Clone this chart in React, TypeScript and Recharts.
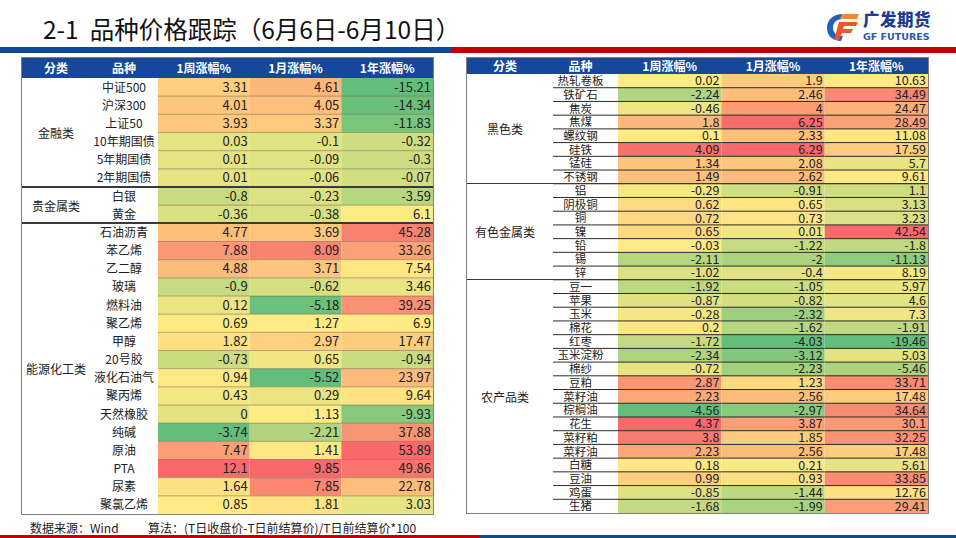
import React from "react";
import { BarChart, Bar, XAxis, YAxis, LabelList } from "recharts";

const headers = ["分类", "品种", "1周涨幅%", "1月涨幅%", "1年涨幅%"];

const leftGroups = ["金融类", "贵金属类", "能源化工类"];
const leftGroupSizes = [6, 2, 16];
const leftNames = [
  "中证500", "沪深300", "上证50", "10年期国债", "5年期国债", "2年期国债",
  "白银", "黄金",
  "石油沥青", "苯乙烯", "乙二醇", "玻璃", "燃料油", "聚乙烯", "甲醇", "20号胶",
  "液化石油气", "聚丙烯", "天然橡胶", "纯碱", "原油", "PTA", "尿素", "聚氯乙烯",
];
const leftWeek = [3.31, 4.01, 3.93, 0.03, 0.01, 0.01, -0.8, -0.36, 4.77, 7.88, 4.88, -0.9, 0.12, 0.69, 1.82, -0.73, 0.94, 0.43, 0, -3.74, 7.47, 12.1, 1.64, 0.85];
const leftMonth = [4.61, 4.05, 3.37, -0.1, -0.09, -0.06, -0.23, -0.38, 3.69, 8.09, 3.71, -0.62, -5.18, 1.27, 2.97, 0.65, -5.52, 0.29, 1.13, -2.21, 1.41, 9.85, 7.85, 1.81];
const leftYear = [-15.21, -14.34, -11.83, -0.32, -0.3, -0.07, -3.59, 6.1, 45.28, 33.26, 7.54, 3.46, 39.25, 6.9, 17.47, -0.94, 23.97, 9.64, -9.93, 37.88, 53.89, 49.86, 22.78, 3.03];

const rightGroups = ["黑色类", "有色金属类", "农产品类"];
const rightGroupSizes = [8, 7, 17];
const rightNames = [
  "热轧卷板", "铁矿石", "焦炭", "焦煤", "螺纹钢", "硅铁", "锰硅", "不锈钢",
  "铝", "阴极铜", "铜", "镍", "铅", "锡", "锌",
  "豆一", "苹果", "玉米", "棉花", "红枣", "玉米淀粉", "棉纱", "豆粕", "菜籽油",
  "棕榈油", "花生", "菜籽粕", "菜籽油", "白糖", "豆油", "鸡蛋", "生猪",
];
const rightWeek = [0.02, -2.24, -0.46, 1.8, 0.1, 4.09, 1.34, 1.49, -0.29, 0.62, 0.72, 0.65, -0.03, -2.11, -1.02, -1.92, -0.87, -0.28, 0.2, -1.72, -2.34, -0.72, 2.87, 2.23, -4.56, 4.37, 3.8, 2.23, 0.18, 0.99, -0.85, -1.68];
const rightMonth = [1.9, 2.46, 4, 6.25, 2.33, 6.29, 2.08, 2.62, -0.91, 0.65, 0.73, 0.01, -1.22, -2, -0.4, -1.05, -0.82, -2.32, -1.62, -4.03, -3.12, -2.23, 1.23, 2.56, -2.97, 3.87, 1.85, 2.56, 0.21, 0.93, -1.44, -1.99];
const rightYear = [10.63, 34.49, 24.47, 28.49, 11.08, 17.59, 5.7, 9.61, 1.1, 3.13, 3.23, 42.54, -1.8, -11.13, 8.19, 5.97, 4.6, 7.3, -1.91, -19.46, 5.03, -5.46, 33.71, 17.48, 34.64, 30.1, 32.25, 17.48, 5.61, 33.85, 12.76, 29.41];

const CN = '"Noto Sans CJK SC", "Microsoft YaHei", sans-serif';
const NUM = '"Liberation Sans Narrow", "Noto Sans CJK SC", sans-serif';
const BLUE = "#16479a";

// excel style 3 colour scale: min green, median yellow, max red
const GREEN = [99, 190, 123];
const YELLOW = [255, 235, 132];
const RED = [248, 105, 107];

function median(arr: number[]) {
  const s = [...arr].sort((a, b) => a - b);
  const pos = (s.length - 1) * 0.5;
  const lo = Math.floor(pos);
  return s[lo] + (s[Math.ceil(pos)] - s[lo]) * (pos - lo);
}

function mix(a: number[], b: number[], t: number) {
  const c = a.map((v, i) => Math.round(v + (b[i] - v) * t));
  return `rgb(${c[0]},${c[1]},${c[2]})`;
}

function heatColor(v: number, arr: number[]) {
  const min = Math.min(...arr);
  const max = Math.max(...arr);
  const mid = median(arr);
  if (v <= mid) return mix(GREEN, YELLOW, mid === min ? 1 : (v - min) / (mid - min));
  return mix(YELLOW, RED, (v - mid) / (max - mid));
}

type TableProps = {
  left: number;
  top: number;
  catW: number;
  nameW: number;
  dataW: number;
  headerH: number;
  bodyH: number;
  names: string[];
  groups: string[];
  groupSizes: number[];
  week: number[];
  month: number[];
  year: number[];
  rowLine: string;
  nameLine: boolean;
  nameSize: number;
  numSize: number;
};

const HeatTable = (t: TableProps) => {
  const rows = t.names.map((n, i) => ({
    key: String(i),
    name: n,
    w: t.week[i],
    m: t.month[i],
    y: t.year[i],
    c1: 1,
    c2: 1,
    c3: 1,
  }));
  const width = t.catW + t.nameW + t.dataW;
  const rowH = t.bodyH / rows.length;
  const colW = t.dataW / 3;
  const cols = [
    { key: "c1", val: "w", arr: t.week },
    { key: "c2", val: "m", arr: t.month },
    { key: "c3", val: "y", arr: t.year },
  ];

  const cellShape = (val: string, arr: number[]) => (p: any) => {
    const idx = Number(p.payload.key);
    return (
      <g>
        <rect x={p.x} y={p.y} width={p.width} height={p.height} fill={heatColor(p.payload[val], arr)} />
        {idx > 0 && (
          <line x1={p.x} x2={p.x + p.width} y1={p.y} y2={p.y} stroke={t.rowLine} strokeWidth={1} />
        )}
      </g>
    );
  };

  const nameTick = (p: any) => {
    const idx = p.payload.index;
    const cx = t.catW + t.nameW / 2;
    return (
      <g>
        <text x={cx} y={p.y + t.nameSize * 0.37} textAnchor="middle" fontSize={t.nameSize} fontFamily={CN} fill="#222">
          {t.names[idx]}
        </text>
        {t.nameLine && idx > 0 && (
          <line x1={t.catW + 10} x2={t.catW + t.nameW} y1={p.y - rowH / 2} y2={p.y - rowH / 2} stroke={t.rowLine} strokeWidth={1} />
        )}
      </g>
    );
  };

  const numLabel = (p: any) => (
    <text x={p.x + p.width - 2} y={p.y + p.height / 2 + t.numSize * 0.35} textAnchor="end" fontSize={t.numSize} fontFamily={NUM} fill="#222">
      {String(p.value)}
    </text>
  );

  let start = 0;
  const bounds = t.groupSizes.map((s) => {
    const b = { from: start, to: start + s };
    start += s;
    return b;
  });

  return (
    <div style={{ position: "absolute", left: t.left, top: t.top, width, height: t.headerH + t.bodyH, border: "1px solid #7f7f7f", boxSizing: "content-box", marginLeft: -1, marginTop: -1 }}>
      <div style={{ display: "flex", height: t.headerH, background: BLUE, color: "#fff", fontFamily: CN, fontWeight: 700, fontSize: 12, lineHeight: `${t.headerH}px` }}>
        {[t.catW, t.nameW, colW, colW, colW].map((w, i) => (
          <div key={i} style={{ width: w, textAlign: "center" }}>{headers[i]}</div>
        ))}
      </div>
      <div style={{ position: "relative", width, height: t.bodyH }}>
        <BarChart width={width} height={t.bodyH} data={rows} layout="vertical" barCategoryGap={0} margin={{ top: 0, right: 0, bottom: 0, left: t.catW }}>
          <XAxis type="number" hide domain={[0, 3]} />
          <YAxis type="category" dataKey="key" width={t.nameW} axisLine={false} tickLine={false} interval={0} tick={nameTick} />
          {cols.map((c) => (
            <Bar key={c.key} dataKey={c.key} stackId="s" isAnimationActive={false} shape={cellShape(c.val, c.arr)}>
              <LabelList dataKey={c.val} content={numLabel} />
            </Bar>
          ))}
        </BarChart>
        {bounds.map((b, i) => (
          <React.Fragment key={i}>
            <div style={{ position: "absolute", left: 0, width: t.catW, top: b.from * rowH, height: (b.to - b.from) * rowH, display: "flex", alignItems: "center", justifyContent: "center", fontFamily: CN, fontSize: 12, color: "#222" }}>
              {t.groups[i]}
            </div>
            {i > 0 && (
              <div style={{ position: "absolute", left: 0, width, top: b.from * rowH - 1, height: 1.5, background: "#3a3a3a" }} />
            )}
          </React.Fragment>
        ))}
      </div>
    </div>
  );
};

const Logo = () => (
  <div style={{ position: "absolute", left: 826, top: 12 }}>
    <svg width={34} height={30} viewBox="0 0 34 30">
      <path d="M17 2 C7 2 1 8 1 16 C1 24 7 29 15 29 L17 24 C11 24 7 21 7 16 C7 10 11 7 17 7 Z" fill="#1f63b8" />
      <path d="M13 10 L32 10 L30 14 L18 14 L17 17 L27 17 L25 21 L16 21 L13 28 L8 28 Z" fill="#f0542a" />
      <path d="M16 2 L33 2 L31 7 L14 7 Z" fill="#f58a2a" />
    </svg>
    <div style={{ position: "absolute", left: 37, top: -4, width: 80, fontFamily: CN, fontWeight: 900, fontSize: 16.5, lineHeight: "22px", color: "#1c3d8f", letterSpacing: 0.5, whiteSpace: "nowrap" }}>广发期货</div>
    <div style={{ position: "absolute", left: 37, top: 19, width: 80, fontFamily: '"DejaVu Sans", sans-serif', fontWeight: 700, fontSize: 9.5, lineHeight: "11px", color: "#1f5cb0", whiteSpace: "nowrap" }}>GF FUTURES</div>
  </div>
);

export default function App() {
  return (
    <div style={{ position: "absolute", left: 0, top: 0, width: 956, height: 538, background: "#fff", overflow: "hidden" }}>
      <div style={{ position: "absolute", left: 43, top: 12, fontFamily: CN, fontSize: 24.5, color: "#111", whiteSpace: "nowrap", lineHeight: "34px" }}>
        2-1&nbsp;&nbsp;品种价格跟踪（6月6日-6月10日）
      </div>
      <div style={{ position: "absolute", left: 0, top: 47, width: 452, height: 6, background: "#0f4a99" }} />
      <div style={{ position: "absolute", left: 452, top: 47, width: 504, height: 6, background: "#c00000" }} />
      <Logo />

      <HeatTable
        left={22} top={58} catW={68} nameW={68} dataW={275} headerH={20} bodyH={436}
        names={leftNames} groups={leftGroups} groupSizes={leftGroupSizes}
        week={leftWeek} month={leftMonth} year={leftYear}
        rowLine="rgba(90,70,40,0.45)" nameLine={false} nameSize={12} numSize={13}
      />
      <HeatTable
        left={467} top={58} catW={76} nameW={75} dataW={310} headerH={16} bodyH={439}
        names={rightNames} groups={rightGroups} groupSizes={rightGroupSizes}
        week={rightWeek} month={rightMonth} year={rightYear}
        rowLine="#2a2a2a" nameLine={true} nameSize={11.5} numSize={12.5}
      />

      <div style={{ position: "absolute", left: 30, top: 519, fontFamily: CN, fontSize: 12, color: "#222", whiteSpace: "nowrap" }}>数据来源：Wind</div>
      <div style={{ position: "absolute", left: 148, top: 519, fontFamily: CN, fontSize: 12, color: "#222", whiteSpace: "nowrap" }}>算法：(T日收盘价-T日前结算价)/T日前结算价*100</div>
      <div style={{ position: "absolute", left: 0, top: 535, width: 479, height: 3, background: "#c00000" }} />
      <div style={{ position: "absolute", left: 479, top: 535, width: 477, height: 3, background: "#0f4a99" }} />
    </div>
  );
}
